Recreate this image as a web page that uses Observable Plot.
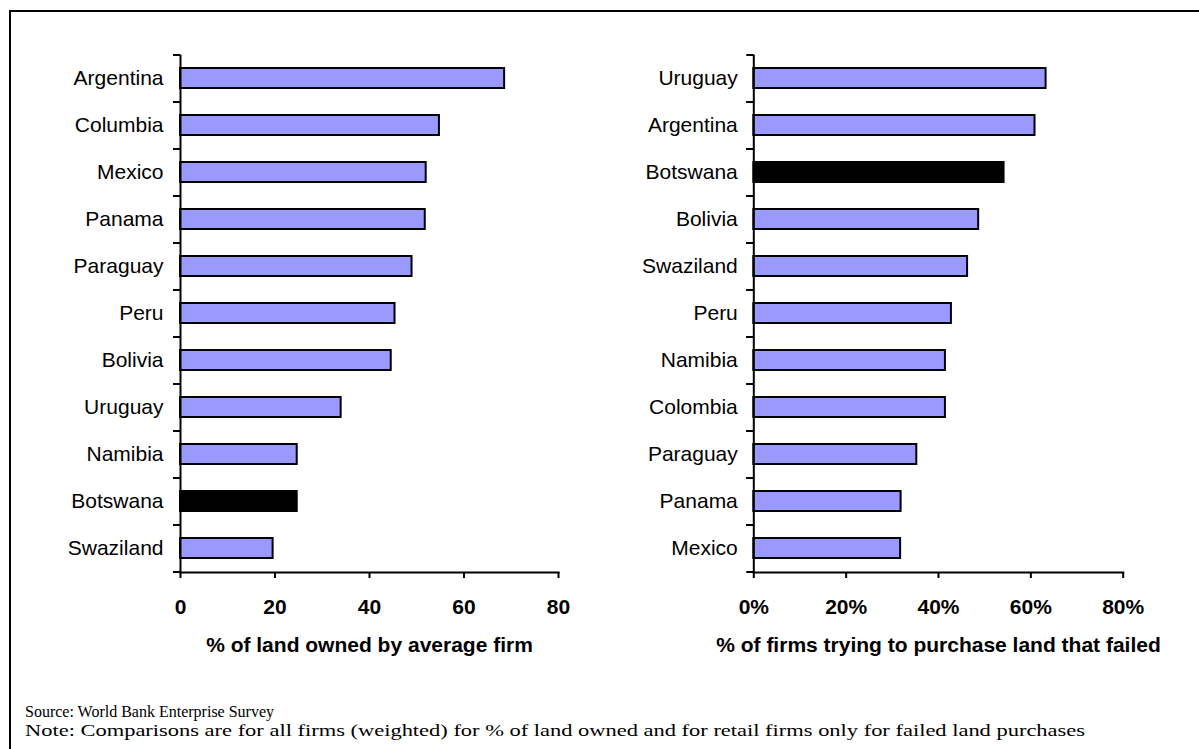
<!DOCTYPE html>
<html>
<head>
<meta charset="utf-8">
<script src="https://cdn.jsdelivr.net/npm/d3@7"></script>
<script src="https://cdn.jsdelivr.net/npm/@observablehq/plot@0.6"></script>
<style>
  html, body { margin: 0; padding: 0; background: #fff; overflow: hidden; }
  body { width: 1199px; height: 749px; position: relative; font-family: "Liberation Sans", Arial, sans-serif; }
  #border { position: absolute; left: 9px; top: 10px; width: 1220px; height: 780px; border: 2px solid #000; box-sizing: border-box; }
  #left, #right { position: absolute; top: 0; }
  #left { left: 0; }
  #right { left: 600px; }
  #notes { position: absolute; left: 25px; top: 702px; font-family: "Liberation Serif", "Times New Roman", serif; font-size: 16px; line-height: 19px; color: #000; }
  #notes span { display: inline-block; white-space: nowrap; transform-origin: 0 50%; }
</style>
</head>
<body>
<div id="border"></div>
<div id="left"></div>
<div id="right"></div>
<div id="notes">
  <div><span id="source">Source: World Bank Enterprise Survey</span></div>
  <div><span id="note">Note: Comparisons are for all firms (weighted) for % of land owned and for retail firms only for failed land purchases</span></div>
</div>
<script>
// Share of land owned by the average firm
const landCountries = ["Argentina", "Columbia", "Mexico", "Panama", "Paraguay", "Peru", "Bolivia", "Uruguay", "Namibia", "Botswana", "Swaziland"];
const landValues = [68.6, 54.8, 52.0, 51.8, 49.0, 45.4, 44.6, 34.0, 24.7, 24.7, 19.6];

// Share of retail firms whose attempted land purchase failed (%)
const failCountries = ["Uruguay", "Argentina", "Botswana", "Bolivia", "Swaziland", "Peru", "Namibia", "Colombia", "Paraguay", "Panama", "Mexico"];
const failValues = [63.3, 60.9, 54.2, 48.7, 46.3, 42.8, 41.5, 41.5, 35.3, 31.9, 31.8];

const xTicks = [0, 20, 40, 60, 80];
const highlight = "Botswana";
const barColor = "#9999FF";

function panel({countries, values, width, marginLeft, marginRight, tickFormat, title, labelPad}) {
  const data = countries.map((c, i) => ({country: c, value: values[i]}));
  const height = 680;
  const marginTop = 55;
  const marginBottom = height - 572;
  const step = (height - marginTop - marginBottom) / countries.length;
  return Plot.plot({
    width, height, marginLeft, marginRight, marginTop, marginBottom,
    style: {fontFamily: "'Liberation Sans', Arial, sans-serif", fontSize: "21px", color: "#000", background: "transparent", overflow: "visible"},
    x: {domain: [0, 80]},
    y: {domain: countries, paddingInner: 0.574, paddingOuter: 0.287},
    marks: [
      Plot.barX(data, {
        x: "value", y: "country",
        fill: d => d.country === highlight ? "#000" : barColor,
        stroke: "#000", strokeWidth: 2
      }),
      // axis lines
      Plot.frame({anchor: "left", stroke: "#000", strokeWidth: 2}),
      Plot.frame({anchor: "bottom", stroke: "#000", strokeWidth: 2}),
      // category boundary ticks
      Plot.axisY({tickSize: 7, tickFormat: () => "", label: null, dy: -step / 2, strokeWidth: 2}),
      Plot.axisY({tickSize: 7, tickFormat: () => "", label: null, dy: step / 2, strokeWidth: 2}),
      // category names
      Plot.axisY({tickSize: 0, tickPadding: labelPad, label: null, fontSize: 21}),
      // value axis
      Plot.axisX({ticks: xTicks, tickSize: 6, tickPadding: 21, tickFormat, label: null, fontSize: 21, fontWeight: "bold", strokeWidth: 2}),
      Plot.text([title], {frameAnchor: "bottom", dy: 73, fontSize: 21, fontWeight: "bold", lineAnchor: "middle"})
    ]
  });
}

document.getElementById("left").append(panel({
  countries: landCountries, values: landValues,
  width: 600, marginLeft: 180, marginRight: 42,
  tickFormat: d => String(d),
  title: "% of land owned by average firm",
  labelPad: 17
}));

document.getElementById("right").append(panel({
  countries: failCountries, values: failValues,
  width: 599, marginLeft: 153.3, marginRight: 76.3,
  tickFormat: d => d + "%",
  title: "% of firms trying to purchase land that failed",
  labelPad: 16
}));

// The note line is set wide, running out to the right side of the figure
const note = document.getElementById("note");
const noteWidth = note.getBoundingClientRect().width;
note.style.transform = `scaleX(${1060 / noteWidth})`;
</script>
</body>
</html>
